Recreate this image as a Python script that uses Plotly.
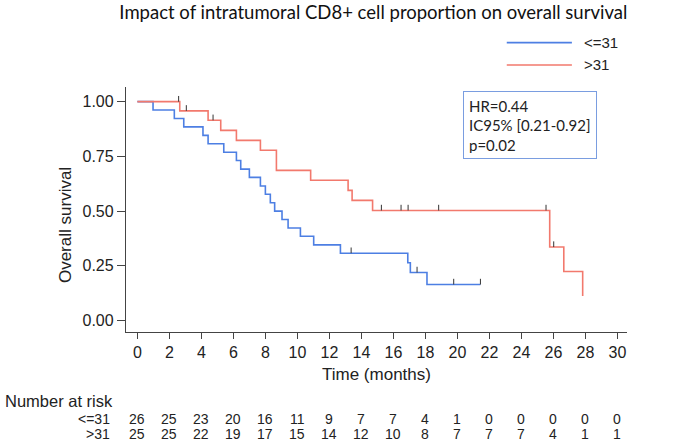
import numpy as np
import plotly.graph_objects as go

# Kaplan-Meier steps
low_times = [0, 0.98, 2.31, 2.9, 4.1, 4.42, 5.4, 6.19, 6.46, 7.0, 7.69, 8.0, 8.31,
             8.58, 9.04, 9.42, 10.19, 11.02, 12.69, 16.9, 17.06, 18.1, 21.44]
low_surv = [1.0, 0.962, 0.923, 0.885, 0.846, 0.808, 0.769, 0.731, 0.692, 0.654, 0.615,
            0.577, 0.538, 0.5, 0.462, 0.423, 0.385, 0.346, 0.308, 0.264, 0.220, 0.165, 0.165]
low_censor = [13.36, 17.48, 19.77, 21.44]

high_times = [0, 2.65, 4.42, 5.21, 6.19, 7.69, 8.69, 10.83, 13.17, 13.42, 14.7,
              25.77, 26.65, 27.83]
high_surv = [1.0, 0.958, 0.915, 0.869, 0.823, 0.778, 0.686, 0.641, 0.595, 0.549, 0.503,
             0.336, 0.224, 0.112]
high_censor = [2.58, 3.06, 4.73, 15.25, 16.48, 16.92, 18.83, 25.54, 26.02]

risk_times = list(range(0, 31, 2))
risk_low = [26, 25, 23, 20, 16, 11, 9, 7, 7, 4, 1, 0, 0, 0, 0, 0]
risk_high = [25, 25, 22, 19, 17, 15, 14, 12, 10, 8, 7, 7, 7, 4, 1, 1]

BLUE = "#4d7fe3"
RED = "#f2796d"
AXIS = "#444444"
TXT = "#222222"
FONT = "Liberation Sans, Arial, sans-serif"
CAL = "Lato, Carlito, sans-serif"


def censor_marks(times, steps, surv, h=0.026):
    xs, ys = [], []
    for t in times:
        s = surv[np.searchsorted(steps, t, side="right") - 1]
        xs += [t, t, None]
        ys += [s, s + h, None]
    return xs, ys


fig = go.Figure()

for times, surv, cens, color in [(low_times, low_surv, low_censor, BLUE),
                                 (high_times, high_surv, high_censor, RED)]:
    fig.add_trace(go.Scatter(
        x=times, y=surv, mode="lines", line=dict(color=color, width=1.6, shape="hv"),
        showlegend=False, hoverinfo="skip"
    ))
    cx, cy = censor_marks(cens, times, surv)
    fig.add_trace(go.Scatter(
        x=cx, y=cy, mode="lines", line=dict(color="#333333", width=1),
        showlegend=False, hoverinfo="skip"
    ))

# number at risk table
ROW1, ROW2 = -0.355, -0.418
ann = []
for t, a, b in zip(risk_times, risk_low, risk_high):
    for val, yy in [(a, ROW1), (b, ROW2)]:
        ann.append(dict(x=t, y=yy, xref="x", yref="paper", text=str(val), showarrow=False,
                        xanchor="center", yanchor="middle",
                        font=dict(size=14, family=FONT, color=TXT)))
for label, yy in [("<=31", ROW1), (">31", ROW2)]:
    ann.append(dict(x=-0.028, y=yy, xref="paper", yref="paper", text=label, showarrow=False,
                    xanchor="right", yanchor="middle", font=dict(size=14, family=FONT, color=TXT)))
ann.append(dict(x=-0.2457, y=-0.281, xref="paper", yref="paper", text="Number at risk",
                showarrow=False, xanchor="left", yanchor="middle",
                font=dict(size=16.5, family=FONT, color=TXT)))

# axis titles
ann.append(dict(x=0.5, y=-0.172, xref="paper", yref="paper", text="Time (months)", showarrow=False,
                xanchor="center", yanchor="middle", font=dict(size=17, family=FONT, color=TXT)))
ann.append(dict(x=-0.122, y=0.436, xref="paper", yref="paper", text="Overall survival",
                showarrow=False, textangle=-90, xanchor="center", yanchor="middle",
                font=dict(size=17, family=FONT, color=TXT)))

# legend
for label, color, yy in [("<=31", BLUE, 1.181), (">31", RED, 1.090)]:
    fig.add_shape(type="line", xref="paper", yref="paper", x0=0.760, x1=0.890, y0=yy, y1=yy,
                  line=dict(color=color, width=1.6))
    ann.append(dict(x=0.910, y=yy, xref="paper", yref="paper", text=label, showarrow=False,
                    xanchor="left", yanchor="middle", font=dict(size=15, family=FONT, color=TXT)))

# HR box
ann.append(dict(x=0.672, y=0.984, xref="paper", yref="paper",
                text="HR=0.44<br>IC95% [0.21-0.92]<br>p=0.02", showarrow=False,
                xanchor="left", yanchor="top", align="left", width=122, height=56,
                bordercolor="#7a9de0", borderwidth=1, borderpad=5, bgcolor="white",
                font=dict(size=15, family=CAL, color=TXT)))

fig.update_layout(
    width=685, height=442,
    margin=dict(l=126, r=58, t=87, b=110),
    paper_bgcolor="white", plot_bgcolor="white",
    title=dict(text="Impact of intratumoral CD8+ cell proportion on overall survival",
               x=0.545, xanchor="center", y=0.972, yanchor="middle",
               font=dict(size=18.5, family=CAL, color="#111")),
    xaxis=dict(range=[-0.71, 30.6], tickvals=risk_times, showline=True, linecolor=AXIS,
               linewidth=1.3, ticks="outside", ticklen=6, tickcolor=AXIS, showgrid=False,
               zeroline=False, tickfont=dict(size=16, family=FONT, color=TXT)),
    yaxis=dict(range=[-0.052, 1.067], tickvals=[0, 0.25, 0.5, 0.75, 1.0],
               ticktext=["0.00", "0.25", "0.50", "0.75", "1.00"], showline=True,
               linecolor=AXIS, linewidth=1.3, ticks="outside", ticklen=8, tickcolor=AXIS,
               showgrid=False, zeroline=False, tickfont=dict(size=16, family=FONT, color=TXT)),
    annotations=ann,
    showlegend=False,
)

fig.write_html("out.html", config={"displayModeBar": False},
               post_script="document.body.style.margin='0';")
